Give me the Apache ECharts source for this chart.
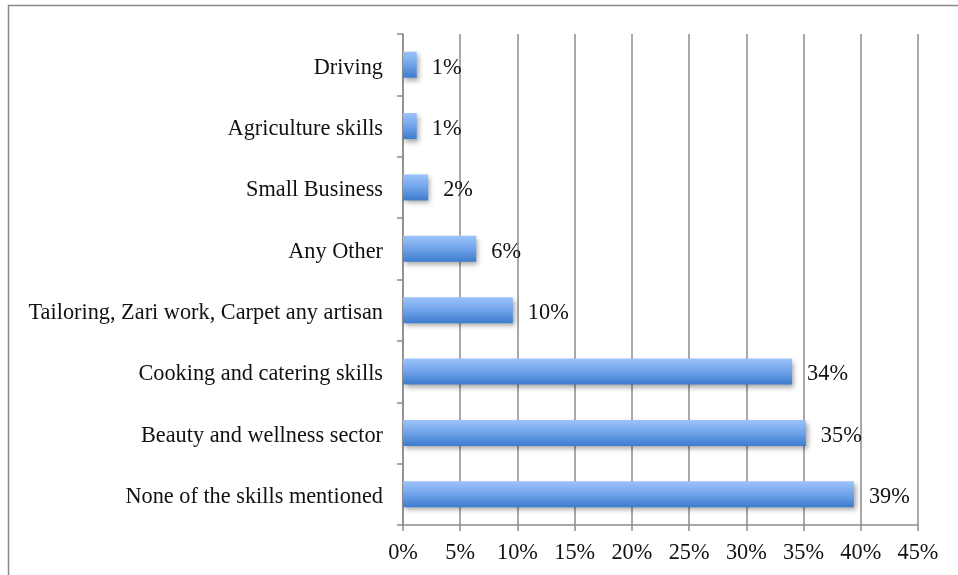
<!DOCTYPE html>
<html>
<head>
<meta charset="utf-8">
<style>
  html, body { margin: 0; padding: 0; background: #fff; }
  #chart { width: 958px; height: 575px; }
</style>
<script src="https://cdn.jsdelivr.net/npm/echarts@6/dist/echarts.min.js"></script>
</head>
<body>
<div id="chart"></div>
<script>
// Skill categories, listed bottom to top as the category axis draws them
const skills = [
  'None of the skills mentioned',
  'Beauty and wellness sector',
  'Cooking and catering skills',
  'Tailoring, Zari work, Carpet any artisan',
  'Any Other',
  'Small Business',
  'Agriculture skills',
  'Driving'
];
// Share of respondents (%)
const shares = [39.4, 35.2, 34.0, 9.6, 6.4, 2.2, 1.2, 1.2];
// Value axis settings
const axisMax = 45;
const axisStep = 5;

const FONT = '"Liberation Serif", "DejaVu Serif", serif';
const FONT_SIZE = 22.3;
const GRID_COLOR = '#8c8c8c';

const chart = echarts.init(document.getElementById('chart'), null, { renderer: 'canvas' });

chart.setOption({
  backgroundColor: '#ffffff',
  animation: false,
  graphic: [{
    type: 'rect',
    shape: { x: 8.5, y: 5.5, width: 1000, height: 700 },
    style: { fill: 'none', stroke: '#8a8a8a', lineWidth: 1.5 },
    z: 0
  }],
  grid: { left: 403, right: 40, top: 34, bottom: 50, containLabel: false },
  xAxis: {
    type: 'value',
    min: 0,
    max: axisMax,
    interval: axisStep,
    axisLine: { show: true, lineStyle: { color: GRID_COLOR, width: 1.5 } },
    axisTick: { show: true, length: 6, lineStyle: { color: GRID_COLOR, width: 1.5 } },
    splitLine: { show: true, lineStyle: { color: GRID_COLOR, width: 1.5 } },
    axisLabel: {
      formatter: v => v + '%',
      color: '#111',
      fontFamily: FONT,
      fontSize: FONT_SIZE,
      margin: 17
    }
  },
  yAxis: {
    type: 'category',
    data: skills,
    axisLine: { show: true, lineStyle: { color: GRID_COLOR, width: 1.5 } },
    axisTick: { show: true, length: 6, lineStyle: { color: GRID_COLOR, width: 1.5 } },
    splitLine: { show: false },
    axisLabel: {
      color: '#111',
      fontFamily: FONT,
      fontSize: FONT_SIZE,
      margin: 20,
      formatter: v => '{t|' + v + '}',
      rich: {
        t: {
          color: '#111',
          fontFamily: FONT,
          fontSize: FONT_SIZE,
          padding: [6, 0, 0, 0]
        }
      }
    }
  },
  series: [{
    type: 'bar',
    data: shares,
    barWidth: 26,
    itemStyle: {
      color: new echarts.graphic.LinearGradient(0, 0, 0, 1, [
        { offset: 0, color: '#9dc3fa' },
        { offset: 0.5, color: '#70a3ea' },
        { offset: 1, color: '#3d7bcd' }
      ]),
      shadowColor: 'rgba(0,0,0,0.35)',
      shadowBlur: 5,
      shadowOffsetX: 2,
      shadowOffsetY: 3
    },
    label: {
      show: true,
      position: 'right',
      distance: 15,
      offset: [0, 3],
      formatter: p => Math.round(p.value) + '%',
      color: '#111',
      fontFamily: FONT,
      fontSize: FONT_SIZE
    }
  }]
});
</script>
</body>
</html>
